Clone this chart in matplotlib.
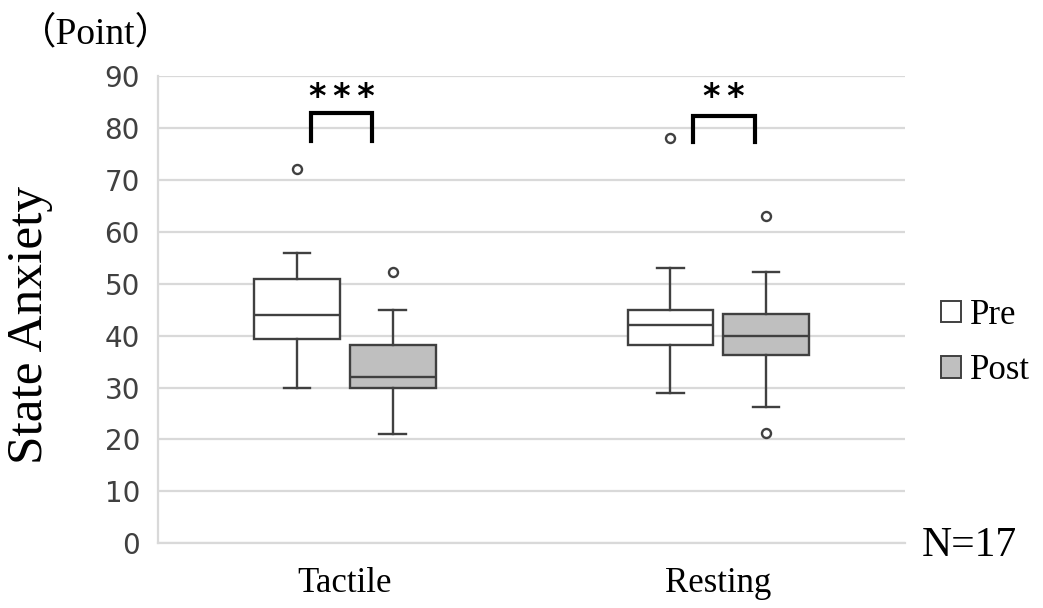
import matplotlib.pyplot as plt
from matplotlib.patches import Patch

# box summary values (point)
groups = ["Tactile", "Resting"]
pre_lo = [30, 29]
pre_q1 = [39.3, 38.2]
pre_med = [44, 42]
pre_q3 = [51, 45]
pre_hi = [56, 53]
pre_fliers = [[72], [78]]

post_lo = [21, 26.3]
post_q1 = [30, 36.2]
post_med = [32, 40]
post_q3 = [38.2, 44.2]
post_hi = [45, 52.2]
post_fliers = [[52.2], [63, 21.2]]

stars = ["*\u2009*\u2009*", "*\u2009*"]
yticks = list(range(0, 100, 10))

serif = ["Liberation Serif", "DejaVu Serif"]
edge = "#404040"

fig = plt.figure(figsize=(10.43, 6.08), dpi=100)
ax = fig.add_axes([0.1515, 0.1064, 0.7162, 0.7686])


def stats(lo, q1, med, q3, hi, fl):
    return [dict(whislo=lo[i], q1=q1[i], med=med[i], q3=q3[i], whishi=hi[i], fliers=fl[i])
            for i in range(len(lo))]


off = 0.128
width = 0.23
centers = list(range(len(groups)))
common = dict(widths=width, patch_artist=True, showfliers=True,
              medianprops=dict(color=edge, lw=1.7),
              whiskerprops=dict(color=edge, lw=1.7),
              capprops=dict(color=edge, lw=1.7),
              flierprops=dict(marker="o", markersize=6.5, markerfacecolor="white",
                              markeredgecolor=edge, markeredgewidth=1.7))

b1 = ax.bxp(stats(pre_lo, pre_q1, pre_med, pre_q3, pre_hi, pre_fliers),
            positions=[c - off for c in centers], **common)
b2 = ax.bxp(stats(post_lo, post_q1, post_med, post_q3, post_hi, post_fliers),
            positions=[c + off for c in centers], **common)
for b in b1["boxes"]:
    b.set(facecolor="white", edgecolor=edge, lw=1.7)
for b in b2["boxes"]:
    b.set(facecolor="#bfbfbf", edgecolor=edge, lw=1.7)
for c in b1["caps"] + b2["caps"]:
    x0, x1 = c.get_xdata()
    m = (x0 + x1) / 2
    c.set_xdata([m - 0.035, m + 0.035])

# significance brackets
br_left = [-0.09, -0.068]
br_right = [0.073, 0.098]
br_top = [82.9, 82.3]
br_bot = [77.5, 77.2]
for i, c in enumerate(centers):
    ax.plot([c + br_left[i], c + br_left[i], c + br_right[i], c + br_right[i]],
            [br_bot[i], br_top[i], br_top[i], br_bot[i]],
            color="black", lw=3, solid_joinstyle="miter", clip_on=False, zorder=5)
    ax.text(c + (br_left[i] + br_right[i]) / 2, 85.8, stars[i], ha="center",
            va="center", fontsize=24, fontweight="bold", family="DejaVu Sans")

ax.set_xlim(-0.5, 1.5)
ax.set_ylim(0, 90)
ax.set_yticks(yticks)
ax.set_xticks(centers)
ax.set_xticklabels(groups, family=serif, fontsize=25)
ax.tick_params(axis="y", labelsize=20, labelcolor="#404040", length=0, pad=13)
ax.tick_params(axis="x", length=0, pad=17)
ax.grid(axis="y", color="#d9d9d9", lw=1.6)
ax.set_axisbelow(True)
for s in ["top", "right"]:
    ax.spines[s].set_visible(False)
for s in ["left", "bottom"]:
    ax.spines[s].set_color("#d9d9d9")
    ax.spines[s].set_linewidth(1.6)

fig.text(0.029, 0.465, "State Anxiety", family=serif, fontsize=37, rotation=90,
         ha="center", va="center")
fig.text(0.018, 0.945, "（Point）", family=["Liberation Serif", "Noto Sans CJK JP"],
         fontsize=27, va="center", ha="left")

handles = [Patch(facecolor="white", edgecolor=edge, lw=1.4),
           Patch(facecolor="#bfbfbf", edgecolor=edge, lw=1.4)]
fig.legend(handles, ["Pre", "Post"], loc="center left", bbox_to_anchor=(0.902, 0.436),
           frameon=False, handlelength=0.58, handleheight=0.58, handletextpad=0.25,
           labelspacing=0.65, borderpad=0, borderaxespad=0,
           prop=dict(family=serif, size=25))
fig.text(0.884, 0.103, "N=17", family=serif, fontsize=30, va="center", ha="left")

fig.savefig("out.png", dpi=100)
